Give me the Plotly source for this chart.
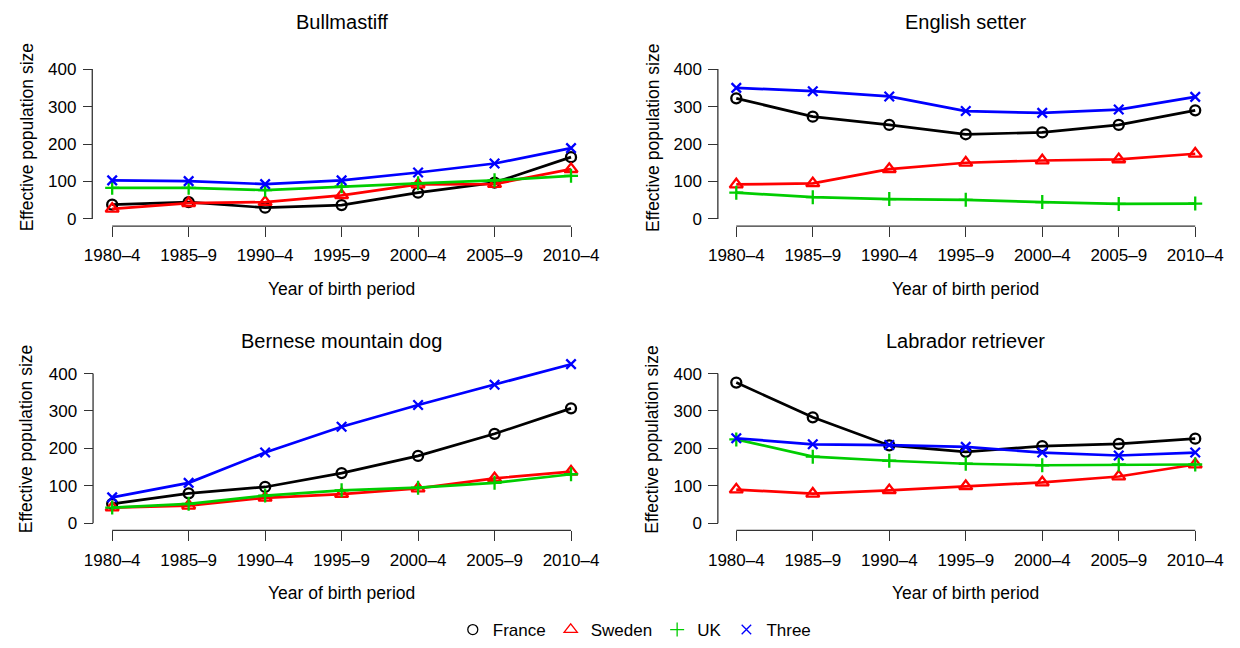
import plotly.graph_objects as go

# ---------------- data ----------------
periods = ["1980–4", "1985–9", "1990–4", "1995–9", "2000–4", "2005–9", "2010–4"]
series_names = ["France", "Sweden", "UK", "Three"]
y_ticks = [0, 100, 200, 300, 400]

bull_france = [38, 45, 30, 37, 70, 97, 165]
bull_sweden = [27, 42, 45, 63, 92, 93, 133]
bull_uk = [83, 83, 77, 87, 95, 103, 115]
bull_three = [103, 101, 93, 103, 124, 148, 189]

setter_france = [322, 273, 251, 226, 231, 251, 290]
setter_sweden = [92, 95, 133, 150, 156, 159, 174]
setter_uk = [70, 58, 53, 51, 45, 40, 41]
setter_three = [350, 341, 327, 288, 283, 292, 326]

bernese_france = [52, 80, 97, 134, 180, 239, 307]
bernese_sweden = [42, 47, 68, 78, 93, 120, 138]
bernese_uk = [42, 52, 74, 88, 95, 108, 131]
bernese_three = [69, 108, 189, 258, 316, 370, 425]

lab_france = [376, 283, 208, 191, 206, 212, 226]
lab_sweden = [90, 79, 88, 99, 109, 125, 157]
lab_uk = [224, 178, 167, 159, 155, 157, 157]
lab_three = [227, 211, 209, 204, 189, 181, 189]

breeds = ["Bullmastiff", "English setter", "Bernese mountain dog", "Labrador retriever"]
breed_values = [
    [bull_france, bull_sweden, bull_uk, bull_three],
    [setter_france, setter_sweden, setter_uk, setter_three],
    [bernese_france, bernese_sweden, bernese_uk, bernese_three],
    [lab_france, lab_sweden, lab_uk, lab_three],
]

# ---------------- style ----------------
W, H = 1240, 648
FONT = "Liberation Sans, Arial, Helvetica, sans-serif"
colors = ["#000000", "#FF0000", "#00CD00", "#0000FF"]
symbols = ["circle-open", "triangle-up-open", "cross-thin-open", "x-thin-open"]
msizes = [10, 11.5, 10, 9.5]
AX = "#333333"

def pxx(x):
    return x / W

def pyy(y):
    return 1 - y / H

# panel geometry in pixels
panels = [
    dict(t0=104.7, t6=570.3, yax=84.5, y0=222.7, y400=70.3, xline=230, ttl=22, xt=294, ytx=18, yty=140),
    dict(t0=738.0, t6=1203.7, yax=719.3, y0=222.7, y400=70.3, xline=230, ttl=22, xt=294, ytx=652.8, yty=140),
    dict(t0=104.7, t6=570.3, yax=85.3, y0=532.3, y400=380.0, xline=539.5, ttl=347, xt=603.5, ytx=18, yty=447),
    dict(t0=738.0, t6=1203.7, yax=719.3, y0=532.3, y400=380.0, xline=539.5, ttl=347, xt=603.5, ytx=652.8, yty=447),
]

XR = (-0.25, 6.25)
YR = (-15, 440)

fig = go.Figure()
layout = dict(
    width=W, height=H,
    margin=dict(l=0, r=0, t=0, b=0),
    paper_bgcolor="white", plot_bgcolor="white",
    font=dict(family=FONT, size=17, color="#000000"),
    showlegend=True,
    annotations=[], shapes=[],
)

for i, (p, name, vals) in enumerate(zip(panels, breeds, breed_values)):
    k = "" if i == 0 else str(i + 1)
    xref, yref = "x" + k, "y" + k
    ux = (p["t6"] - p["t0"]) / 6.0
    uy = (p["y0"] - p["y400"]) / 400.0
    xl = p["t0"] + (XR[0]) * ux
    xr = p["t0"] + (XR[1]) * ux
    yb = p["y0"] - YR[0] * uy
    yt = p["y0"] - YR[1] * uy

    layout["xaxis" + k] = dict(
        domain=[pxx(xl), pxx(xr)], range=list(XR), type="category",
        categoryorder="array", categoryarray=periods,
        anchor="free", position=pyy(p["xline"]),
        showline=False, showgrid=False, zeroline=False,
        ticks="outside", ticklen=10, tickwidth=1.3, tickcolor=AX,
        tickfont=dict(size=17), ticklabelstandoff=4,
        fixedrange=True,
    )
    layout["yaxis" + k] = dict(
        domain=[pyy(yb), pyy(yt)], range=list(YR),
        anchor="free", position=pxx(p["yax"]),
        tickvals=y_ticks, showline=False, showgrid=False, zeroline=False,
        ticks="outside", ticklen=9.5, tickwidth=1.3, tickcolor=AX,
        tickfont=dict(size=17), ticklabelstandoff=3,
        fixedrange=True,
    )
    # detached axis lines (R style)
    layout["shapes"].append(dict(type="line", xref=xref, yref="paper",
                                 x0=0, x1=6, y0=pyy(p["xline"]), y1=pyy(p["xline"]),
                                 line=dict(color=AX, width=1.3)))
    layout["shapes"].append(dict(type="line", xref="paper", yref=yref,
                                 x0=pxx(p["yax"]), x1=pxx(p["yax"]), y0=0, y1=400,
                                 line=dict(color=AX, width=1.3)))
    # titles
    cx = (p["t0"] + p["t6"]) / 2
    layout["annotations"].append(dict(text=name, xref="paper", yref="paper",
                                      x=pxx(cx), y=pyy(p["ttl"]), showarrow=False,
                                      xanchor="center", yanchor="middle",
                                      font=dict(size=20)))
    layout["annotations"].append(dict(text="Year of birth period", xref="paper", yref="paper",
                                      x=pxx(cx), y=pyy(p["xt"]), showarrow=False,
                                      xanchor="center", yanchor="middle",
                                      font=dict(size=17.5)))
    layout["annotations"].append(dict(text="Effective population size", xref="paper", yref="paper",
                                      x=pxx(p["ytx"]), y=pyy(p["yty"]), showarrow=False,
                                      textangle=-90, xanchor="center", yanchor="middle",
                                      font=dict(size=17.5)))

    for j, v in enumerate(vals):
        fig.add_trace(go.Scatter(
            x=periods, y=v, xaxis=xref, yaxis=yref,
            mode="lines+markers", showlegend=False, cliponaxis=False,
            line=dict(color=colors[j], width=2.7),
            marker=dict(symbol=symbols[j], size=msizes[j], color=colors[j],
                        line=dict(color=colors[j], width=2.3)),
            name=series_names[j], hoverinfo="skip",
        ))

# legend-only entries (markers only, as in R legend)
for j, nm in enumerate(series_names):
    fig.add_trace(go.Scatter(
        x=[None], y=[None], mode="markers", name=nm, showlegend=True,
        marker=dict(symbol=symbols[j], size=msizes[j], color=colors[j],
                    line=dict(color=colors[j], width=1.3)),
    ))

layout["legend"] = dict(
    orientation="h", x=0.5 + 15 / W, xanchor="center", y=pyy(641), yanchor="middle",
    font=dict(size=17), bgcolor="rgba(0,0,0,0)", itemwidth=30,
    tracegroupgap=0,
)

fig.update_layout(**layout)
fig.write_html(
    "out.html",
    config={"displayModeBar": False},
    post_script="document.body.style.margin='0px';document.body.style.overflow='hidden';",
)
